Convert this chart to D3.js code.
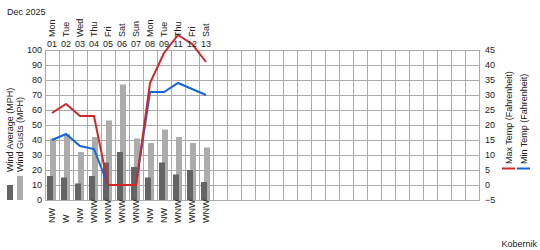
<!DOCTYPE html>
<html><head><meta charset="utf-8">
<script src="https://cdn.jsdelivr.net/npm/d3@7"></script>
<style>
html,body{margin:0;padding:0;background:#fff;}
svg{display:block;font-family:"Liberation Sans",Arial,sans-serif;}
text{fill:#222;font-size:9px;}
</style></head>
<body><svg id="c" width="540" height="250"></svg>
<script>
const title = "Dec 2025";
const days = ["Mon","Tue","Wed","Thu","Fri","Sat","Sun","Mon","Tue","Thu","Fri","Sat"];
const dates = ["01","02","03","04","05","06","07","08","09","11","12","13"];
const windDir = ["NW","W","NW","WNW","WNW","WNW","WNW","NW","NW","WNW","WNW","WNW"];
const windAvg = [16,15,11,16,25,32,22,15,25,17,20,12];
const windGust = [41,44,32,42,53,77,41,38,47,42,38,35];
const maxTemp = [24,27,23,23,0,0,0,34,44,50,47,41];
const minTemp = [15,17,13,12,0,0,0,31,31,34,32,30];
const windTicks = [0,10,20,30,40,50,60,70,80,90,100];
const tempTicks = [-5,0,5,10,15,20,25,30,35,40,45];
const slotCount = 31;

const svg = d3.select("#c");
const L = 45, R = 479, T = 50, B = 200;
const x = d3.scaleBand().domain(d3.range(slotCount)).range([L, R]);
const yW = d3.scaleLinear().domain([0,100]).range([B, T]);
const yT = d3.scaleLinear().domain([-5,45]).range([B, T]);
const bw = x.bandwidth();

// grid
const g = svg.append("g").attr("stroke","#aaaaaa").attr("stroke-width",1).attr("shape-rendering","crispEdges");
d3.range(slotCount+1).forEach(i=>{
  const xx = L + i*bw;
  g.append("line").attr("x1",xx+0.5).attr("x2",xx+0.5).attr("y1",T).attr("y2",B);
});
windTicks.forEach(v=>{
  g.append("line").attr("x1",L).attr("x2",R+1).attr("y1",yW(v)+0.5).attr("y2",yW(v)+0.5);
});

// bars
svg.append("g").selectAll("rect").data(windGust).join("rect")
  .attr("x",(d,i)=>x(i)+5).attr("width",6)
  .attr("y",d=>yW(d)).attr("height",d=>yW(0)-yW(d)).attr("fill","#acacac");
svg.append("g").selectAll("rect").data(windAvg).join("rect")
  .attr("x",(d,i)=>x(i)+2).attr("width",6)
  .attr("y",d=>yW(d)).attr("height",d=>yW(0)-yW(d)).attr("fill","#646464");

// lines
const cx = i => x(i) + bw/2;
const lineT = d3.line().x((d,i)=>cx(i)).y(d=>yT(d));
svg.append("path").datum(minTemp).attr("d",lineT).attr("fill","none")
  .attr("stroke","#1466dc").attr("stroke-width",2);
svg.append("path").datum(maxTemp).attr("d",lineT).attr("fill","none")
  .attr("stroke","#d02828").attr("stroke-width",2);

// axes
const axL = svg.append("g").attr("transform",`translate(${L},0)`)
  .call(d3.axisLeft(yW).tickValues(windTicks).tickSize(0).tickPadding(3));
const axR = svg.append("g").attr("transform",`translate(${R},0)`)
  .call(d3.axisRight(yT).tickValues(tempTicks).tickSize(0).tickPadding(6));
[axL,axR].forEach(a=>{
  a.select(".domain").remove();
  a.selectAll("text").attr("font-size",9).attr("font-family","Liberation Sans, Arial, sans-serif").attr("fill","#222");
});

// top labels
days.forEach((d,i)=>{
  svg.append("text").attr("transform",`translate(${cx(i)},37) rotate(-90)`)
    .attr("dy","0.35em").text(d);
});
dates.forEach((d,i)=>{
  svg.append("text").attr("x",cx(i)).attr("y",47).attr("text-anchor","middle").text(d);
});
// bottom wind dir
windDir.forEach((d,i)=>{
  svg.append("text").attr("transform",`translate(${cx(i)},223) rotate(-90)`)
    .attr("dy","0.35em").text(d);
});

// title, credit
svg.append("text").attr("x",7).attr("y",15).text(title);
svg.append("text").attr("x",537).attr("y",247).attr("text-anchor","end").text("Kobernik");

// left legend
svg.append("rect").attr("x",7).attr("y",185).attr("width",6).attr("height",15).attr("fill","#646464");
svg.append("rect").attr("x",17).attr("y",176).attr("width",6).attr("height",24).attr("fill","#acacac");
svg.append("text").attr("transform","translate(10.3,172) rotate(-90)").attr("dy","0.35em").text("Wind Average (MPH)");
svg.append("text").attr("transform","translate(19.8,172) rotate(-90)").attr("dy","0.35em").text("Wind Gusts (MPH)");

// right legend
svg.append("rect").attr("x",502).attr("y",167.5).attr("width",13).attr("height",2).attr("fill","#d02828");
svg.append("rect").attr("x",517).attr("y",167.5).attr("width",13).attr("height",2).attr("fill","#1466dc");
svg.append("text").attr("transform","translate(508.5,164) rotate(-90)").attr("dy","0.35em").text("Max Temp (Fahrenheit)");
svg.append("text").attr("transform","translate(524,164) rotate(-90)").attr("dy","0.35em").text("Min Temp (Fahrenheit)");
</script></body></html>
